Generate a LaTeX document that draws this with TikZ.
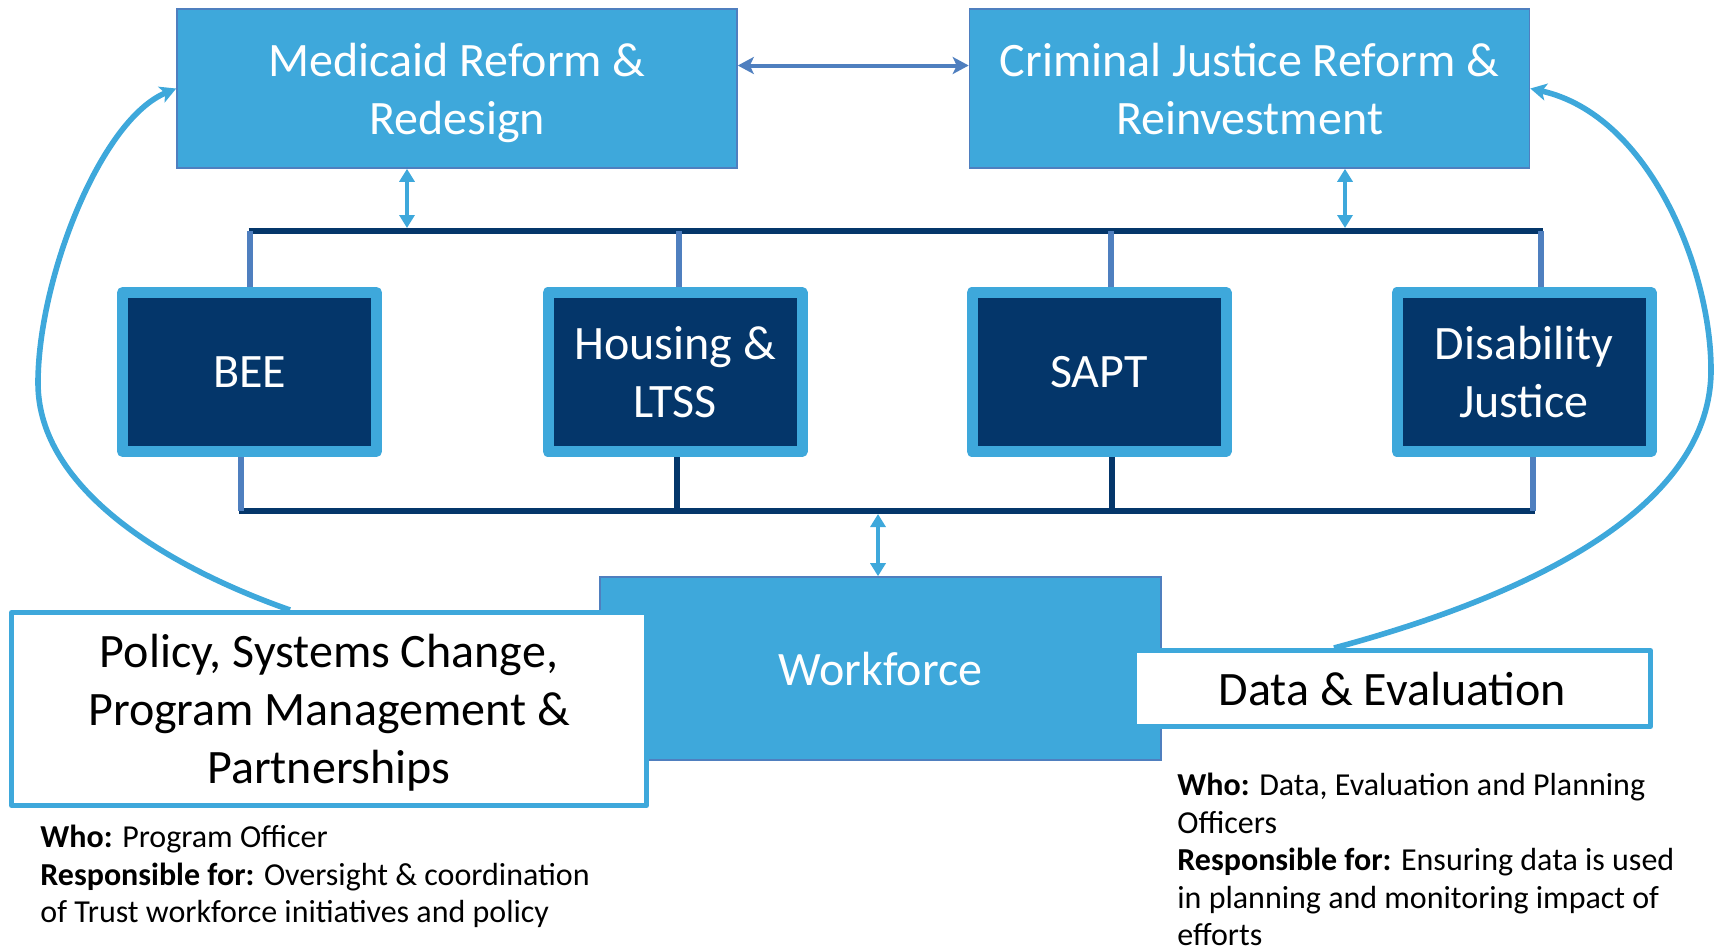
\documentclass[tikz,border=0pt]{standalone}
\usepackage{fontspec}
\setmainfont{Carlito}
\usetikzlibrary{arrows.meta,calc}
\definecolor{lblue}{RGB}{62,168,219}
\definecolor{mblue}{RGB}{79,127,191}
\definecolor{navy}{RGB}{4,54,106}
\pgfdeclarelayer{bg}
\pgfsetlayers{bg,main}
\begin{document}
\begin{tikzpicture}[x=0.5pt,y=-0.5pt,
  bigfont/.style={font=\fontsize{24}{29}\selectfont},
  topbox/.style={bigfont,draw=mblue,line width=0.8pt,fill=lblue,text=white,align=center,
    minimum width=280pt,minimum height=79.5pt,inner sep=0pt},
  progbox/.style={bigfont,draw=lblue,line width=5.5pt,line join=round,fill=navy,text=white,align=center,
    minimum width=127pt,minimum height=79.5pt,inner sep=0pt,outer sep=0pt},
  wfbox/.style={bigfont,draw=mblue,line width=0.8pt,fill=lblue,text=white,align=center,
    minimum width=280.5pt,minimum height=91.5pt,inner sep=0pt},
  whitebox/.style={bigfont,draw=lblue,line width=2.5pt,line join=round,fill=white,text=black,align=center,inner sep=0pt},
  whotext/.style={font=\fontsize{16}{19}\selectfont,anchor=base west,inner sep=0pt},
  bus/.style={draw=navy,line width=3.1pt},
  dropm/.style={draw=mblue,line width=3.1pt},
  dropn/.style={draw=navy,line width=3.1pt},
  lbarrow/.style={draw=lblue,line width=1.8pt,{Triangle[length=6.5pt,width=7.5pt]}-{Triangle[length=6.5pt,width=7.5pt]}},
  mbarrow/.style={draw=mblue,line width=2pt,{Stealth[length=8pt,width=8.5pt,inset=2pt]}-{Stealth[length=8pt,width=8.5pt,inset=2pt]}},
  curvearrow/.style={draw=lblue,line width=2.8pt,-{Stealth[length=8pt,width=8.5pt,inset=2pt]}}
]
\useasboundingbox (0,0) rectangle (1716,950);

% top boxes
\node[topbox] (med) at (457,88.5) {Medicaid Reform \&\\\smash{Redesign}};
\node[topbox] (cj) at (1249.5,88.5) {Criminal Justice Reform \&\\\smash{Reinvestment}};

% program boxes
\node[progbox] (bee) at (249.5,372) {BEE};
\node[progbox] (hou) at (675,372) {Housing \&\\\smash{LTSS}};
\node[progbox] (sapt) at (1099,372) {SAPT};
\node[progbox] (dis) at (1524,372) {Disability\\\smash{Justice}};

% workforce and overlays
\node[wfbox] (wf) at (880.5,668.5) {Workforce};
\node[whitebox,minimum width=317.5pt,minimum height=96.5pt] (pol) at (329,709)
  {Policy, Systems Change,\\Program Management \&\\\smash{Partnerships}};
\node[whitebox,minimum width=258pt,minimum height=38pt] (dat) at (1392.5,688.5) {Data \& Evaluation};

% who texts
\node[whotext] (lw1) at (40,847) {\textbf{Who:} Program Officer};
\node[whotext] (lw2) at (40,885) {\textbf{Responsible for:} Oversight \& coordination};
\node[whotext] (lw3) at (40,922) {of Trust workforce initiatives and policy};
\node[whotext] (rw1) at (1177,795) {\textbf{Who:} Data, Evaluation and Planning};
\node[whotext] (rw2) at (1177,833) {Officers};
\node[whotext] (rw3) at (1177,870) {\textbf{Responsible for:} Ensuring data is used};
\node[whotext] (rw4) at (1177,908) {in planning and monitoring impact of};
\node[whotext] (rw5) at (1177,945) {efforts};

% coordinates
\coordinate (tl) at (248.5,231);
\coordinate (tr) at (1543,231);
\coordinate (bl) at (239,511);
\coordinate (br) at (1535,511);
\coordinate (t1) at (250,231);
\coordinate (t2) at (679,231);
\coordinate (t3) at (1111,231);
\coordinate (t4) at (1541,231);
\coordinate (b1) at (241,511);
\coordinate (b2) at (677,511);
\coordinate (b3) at (1112,511);
\coordinate (b4) at (1533,511);
\coordinate (ma) at (407,228);
\coordinate (ca) at (1345,228);
\coordinate (wa) at (878,514);
\coordinate (hy) at (0,65.5);
\coordinate (lc) at (290,0);
\coordinate (rc) at (1334,0);

\begin{pgfonlayer}{bg}
  % curves
  \draw[curvearrow] (lc |- pol.north) .. controls (170,568) and (38,490) .. (38,383)
     .. controls (38,280) and (100,120) .. (med.west);
  \draw[curvearrow] (rc |- dat.north) .. controls (1550,590) and (1711,500) .. (1711,370)
     .. controls (1711,270) and (1650,115) .. (cj.east);
  % buses
  \draw[bus] (tl) -- (tr);
  \draw[bus] (bl) -- (br);
  % drops
  \draw[dropm] (t1) -- (t1 |- bee.north);
  \draw[dropm] (t2) -- (t2 |- hou.north);
  \draw[dropm] (t3) -- (t3 |- sapt.north);
  \draw[dropm] (t4) -- (t4 |- dis.north);
  \draw[dropm] (b1 |- bee.south) -- (b1);
  \draw[dropn] (b2 |- hou.south) -- (b2);
  \draw[dropn] (b3 |- sapt.south) -- (b3);
  \draw[dropm] (b4 |- dis.south) -- (b4);
\end{pgfonlayer}

% arrows
\draw[mbarrow] (med.east |- hy) -- (cj.west |- hy);
\draw[lbarrow] (med.south -| ma) -- (ma);
\draw[lbarrow] (cj.south -| ca) -- (ca);
\draw[lbarrow] (wa) -- (wa |- wf.north);
\end{tikzpicture}
\end{document}
